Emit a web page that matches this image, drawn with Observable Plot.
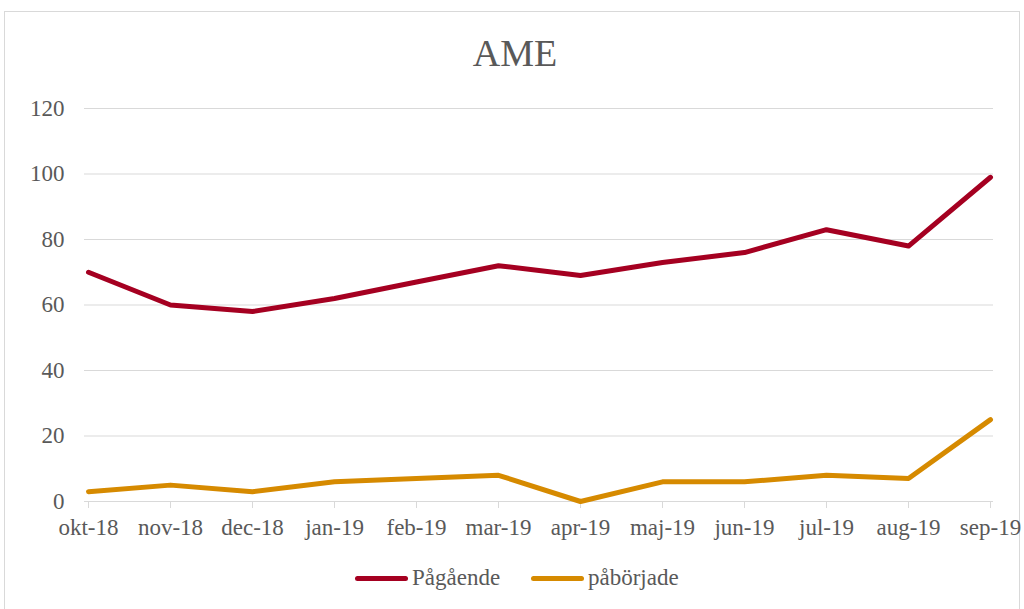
<!DOCTYPE html>
<html>
<head>
<meta charset="utf-8">
<script src="https://cdn.jsdelivr.net/npm/d3@7"></script>
<script src="https://cdn.jsdelivr.net/npm/@observablehq/plot@0.6"></script>
<style>
  html, body { margin: 0; padding: 0; background: #fff; overflow: hidden; }
  body { width: 1024px; height: 609px; position: relative; font-family: "Liberation Serif", "DejaVu Serif", serif; }
  #frame { position: absolute; left: 4px; top: 11px; width: 1016px; height: 610px; border: 1px solid #d9d9d9; box-sizing: border-box; }
  #title { position: absolute; left: 0; width: 1030px; top: 31px; text-align: center; font-size: 38px; color: #595959; font-family: "Liberation Serif", serif; }
  #chart { position: absolute; left: 0; top: 0; }
  #chart svg text { font-family: "Liberation Serif", serif !important; font-size: 23px !important; fill: #595959 !important; }
  #legend { position: absolute; top: 565px; left: 0; width: 1024px; font-size: 23px; color: #595959; font-family: "Liberation Serif", serif; }
  .item { position: absolute; display: flex; align-items: center; }
  .swatch { display: inline-block; width: 53px; height: 5px; border-radius: 3px; margin-right: 4px; }
</style>
</head>
<body>
<div id="frame"></div>
<div id="chart"></div>
<div id="title">AME</div>
<div id="legend"></div>
<script>
const months = ["okt-18","nov-18","dec-18","jan-19","feb-19","mar-19","apr-19","maj-19","jun-19","jul-19","aug-19","sep-19"];
const pagaende = [70, 60, 58, 62, 67, 72, 69, 73, 76, 83, 78, 99];
const paborjade = [3, 5, 3, 6, 7, 8, 0, 6, 6, 8, 7, 25];
const seriesNames = ["Pågående", "påbörjade"];
const seriesColors = ["#A50021", "#D68A00"];
const yTicks = [0, 20, 40, 60, 80, 100, 120];

const data = [];
months.forEach((m, i) => {
  data.push({month: m, value: pagaende[i], series: seriesNames[0]});
  data.push({month: m, value: paborjade[i], series: seriesNames[1]});
});

const plot = Plot.plot({
  width: 1024,
  height: 560,
  marginTop: 108,
  marginBottom: 59,
  marginLeft: 84,
  marginRight: 31,
  style: {fontFamily: "'Liberation Serif', serif", fontSize: "23px", color: "#595959", background: "transparent", overflow: "visible"},
  x: {type: "point", domain: months, padding: 0, label: null},
  y: {domain: [0, 120], label: null},
  color: {domain: seriesNames, range: seriesColors},
  marks: [
    Plot.gridY(yTicks, {stroke: "#d9d9d9", strokeOpacity: 1, strokeWidth: 1}),
    Plot.axisY(yTicks, {tickSize: 0, tickPadding: 20, label: null, fill: "#595959", fontSize: 23, fontFamily: "Liberation Serif"}),
    Plot.axisX({tickSize: 7, tickPadding: 10, label: null, stroke: "#d9d9d9", strokeOpacity: 1, fill: "#595959", fontSize: 23, fontFamily: "Liberation Serif"}),
    Plot.line(data, {x: "month", y: "value", z: "series", stroke: "series", strokeWidth: 5, strokeLinecap: "round", strokeLinejoin: "round"})
  ]
});
document.getElementById("chart").appendChild(plot);

const legend = document.getElementById("legend");
const lefts = [355, 531];
seriesNames.forEach((name, i) => {
  const item = document.createElement("div");
  item.className = "item";
  item.style.left = lefts[i] + "px";
  const sw = document.createElement("span");
  sw.className = "swatch";
  sw.style.background = seriesColors[i];
  const tx = document.createElement("span");
  tx.textContent = name;
  item.appendChild(sw);
  item.appendChild(tx);
  legend.appendChild(item);
});
</script>
</body>
</html>
